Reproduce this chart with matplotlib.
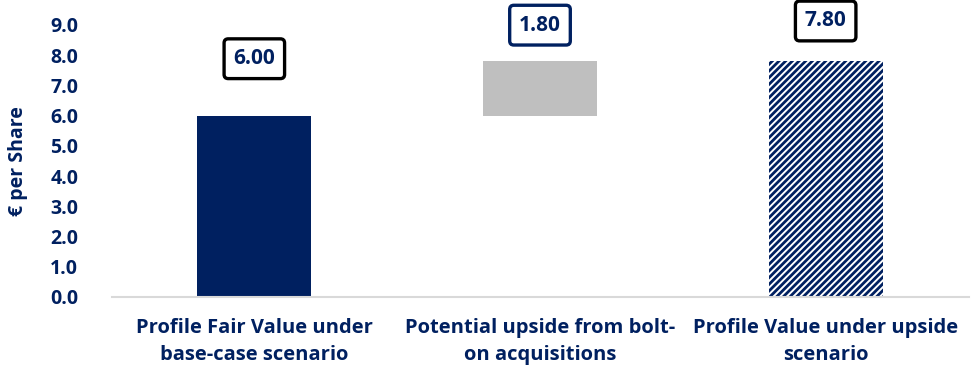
import matplotlib
matplotlib.use("Agg")
import matplotlib.pyplot as plt
from matplotlib import font_manager as fm

names = {f.name for f in fm.fontManager.ttflist}
fam = "Liberation Sans Narrow" if "Liberation Sans Narrow" in names else "Open Sans"
plt.rcParams['font.family'] = [fam, 'DejaVu Sans']
plt.rcParams['hatch.linewidth'] = 2.0

categories = ["Profile Fair Value under\nbase-case scenario",
              "Potential upside from bolt-\non acquisitions",
              "Profile Value under upside\nscenario"]
bottoms = [0.0, 6.0, 0.0]
heights = [6.0, 1.8, 7.8]
labels = ["6.00", "1.80", "7.80"]
yticks = [0.0, 1.0, 2.0, 3.0, 4.0, 5.0, 6.0, 7.0, 8.0, 9.0]

NAVY = '#002060'
fig = plt.figure(figsize=(9.73, 3.70), dpi=100)
ax = fig.add_axes([111.5/973, 73/370, 857/973, 272/370])

x = list(range(len(categories)))
facecolors = [NAVY, '#BFBFBF', 'white']
hatches = [None, None, '/////']
for i in x:
    ax.bar(i, heights[i], bottom=bottoms[i], width=0.40, facecolor=facecolors[i],
           hatch=hatches[i], edgecolor=NAVY if hatches[i] else facecolors[i], linewidth=0)

ax.set_xlim(-0.5, 2.5)
ax.set_ylim(0, 9.0)
ax.set_yticks(yticks)
ax.set_yticklabels([f"{v:.1f}" for v in yticks])
ax.set_xticks(x)
ax.set_xticklabels(categories, linespacing=1.45)
for s in ['top', 'right', 'left']:
    ax.spines[s].set_visible(False)
ax.spines['bottom'].set_color('#D9D9D9')
ax.spines['bottom'].set_linewidth(1.5)
ax.tick_params(axis='both', length=0, colors=NAVY)
ax.tick_params(axis='y', pad=24, labelsize=14)
ax.tick_params(axis='x', pad=15, labelsize=14.5)
for t in ax.get_xticklabels() + ax.get_yticklabels():
    t.set_fontweight('bold')
    t.set_color(NAVY)
ax.set_ylabel("€ per Share", fontsize=14, fontweight='bold', color=NAVY, labelpad=16)

offsets = [41, 26, 29]
edgecols = ['black', NAVY, 'black']
for i in x:
    top = bottoms[i] + heights[i]
    ax.annotate(labels[i], xy=(i, top), xytext=(0, offsets[i]), textcoords='offset points',
                ha='center', va='center', fontsize=15, fontweight='bold', color=NAVY,
                annotation_clip=False,
                bbox=dict(boxstyle='round,pad=0.45,rounding_size=0.2', fc='white',
                          ec=edgecols[i], lw=2.4))

fig.savefig("out.png", dpi=100)
